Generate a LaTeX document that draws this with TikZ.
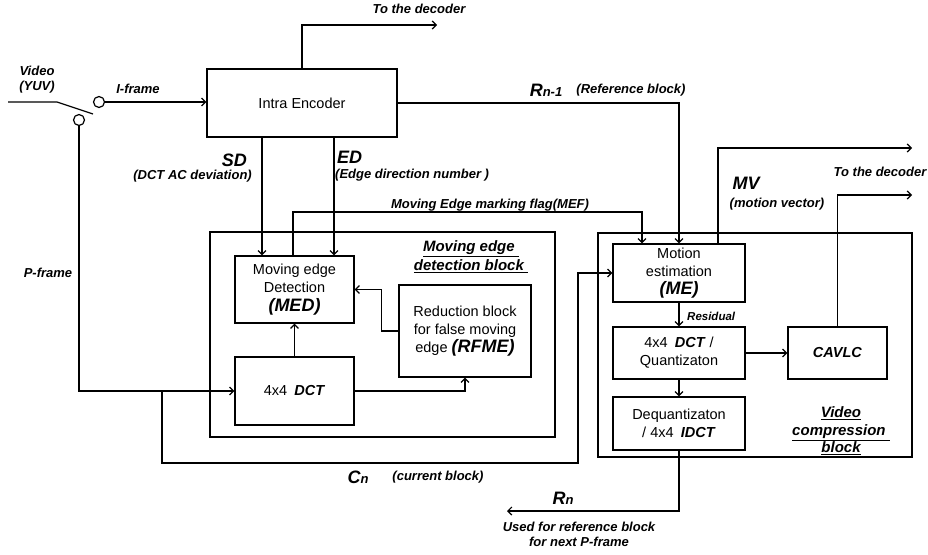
\documentclass[tikz,border=0pt]{standalone}
\usepackage{fontspec}
\setmainfont{Liberation Sans}
\usepackage{tikz}
\usetikzlibrary{arrows.meta}

\newcommand{\lbl}{\fontsize{13}{15}\selectfont\bfseries\itshape}
\newcommand{\biglbl}{\fontsize{18}{20}\selectfont\bfseries\itshape}
\newcommand{\sublbl}[2]{{\biglbl #1}{\fontsize{13}{14}\selectfont\bfseries\itshape #2}}

\tikzset{
  blk/.style={draw, line width=1.2pt, inner sep=0pt, align=center,
    font=\fontsize{14.5}{18}\selectfont},
  grp/.style={draw, line width=1.2pt},
  arr/.style={line width=1.2pt, -{Straight Barb[length=4pt,width=8pt]}},
  wire/.style={line width=1.2pt},
  sw/.style={circle, draw, line width=1.2pt, minimum size=11pt, inner sep=0pt},
  txt/.style={inner sep=0pt, align=center}
}

\begin{document}
\begin{tikzpicture}[x=1pt, y=-1pt]
    \useasboundingbox (0,0) rectangle (928,554);

    % group frames
    \draw[grp] (210,232) rectangle (555,437);
    \draw[grp] (598,233) rectangle (912,457);

    % blocks
    \node[blk, minimum width=190pt, minimum height=68pt] (intra) at (302,103) {Intra Encoder};
    \node[blk, minimum width=119pt, minimum height=67pt] (med) at (294.5,289.5)
      {Moving edge\\Detection\\[1pt]{\biglbl (MED)}};
    \node[blk, minimum width=132pt, minimum height=92pt] (rfme) at (465,331)
      {Reduction block\\for false moving\\edge {\biglbl (RFME)}};
    \node[blk, minimum width=119pt, minimum height=68pt] (dct) at (294.5,391)
      {4x4\enspace\textbf{\textit{DCT}}};
    \node[blk, minimum width=132pt, minimum height=58pt] (me) at (679,273)
      {Motion\\estimation\\[0pt]{\biglbl (ME)}};
    \node[blk, minimum width=132pt, minimum height=52pt] (dctq) at (679,353)
      {4x4\enspace\textbf{\textit{DCT}} /\\Quantizaton};
    \node[blk, minimum width=99pt, minimum height=52pt] (cavlc) at (837.5,353)
      {\textbf{\textit{CAVLC}}};
    \node[blk, minimum width=132pt, minimum height=53pt] (deq) at (679,423.5)
      {Dequantizaton\\/ 4x4\enspace\textbf{\textit{IDCT}}};

    % switch
    \coordinate (vin) at (8,102);
    \coordinate (pivot) at (57,102);
    \coordinate (blade) at (93,114);
    \node[sw] (swa) at (99,102) {};
    \node[sw] (swb) at (79,120) {};
    \draw[wire] (vin) -- (pivot) -- (blade);

    % free ends
    \coordinate (decout) at (437,25);
    \coordinate (mef) at (642,212);
    \coordinate (mvout) at (912,148);
    \coordinate (cavout) at (912,195);
    \coordinate (cn0) at (162,391);
    \coordinate (cnturn) at (578,463);
    \coordinate (rnout) at (507,511);

    % connectors
    \draw[arr] (swa.east) -- (intra.west |- swa.east);
    \draw[arr] (intra.north) |- (decout);
    \draw[arr] (intra.east) -| (me.north);
    \draw[arr] ([xshift=-40pt]intra.south) -- ([xshift=-40pt]intra.south |- med.north);
    \draw[arr] ([xshift=32pt]intra.south) -- ([xshift=32pt]intra.south |- med.north);
    \draw[arr] ([xshift=-1.5pt]med.north) |- (mef) -- (mef |- me.north);
    \draw[arr] (swb.south) |- (dct.west);
    \draw[arr] (dct.north) -- (med.south);
    \draw[arr] (dct.east) -| (rfme.south);
    \draw[arr] (rfme.west) -- ++(-17,0) |- (med.east);
    \draw[arr] (cn0) |- (cnturn) |- (me.west);
    \draw[arr] ([xshift=39pt]me.north) |- (mvout);
    \draw[arr] (me.south) -- (dctq.north);
    \draw[arr] (dctq.east) -- (cavlc.west);
    \draw[arr] (cavlc.north) |- (cavout);
    \draw[arr] (dctq.south) -- (deq.north);
    \draw[arr] (deq.south) |- (rnout);

    % labels
    \node[txt, font=\lbl] (video) at (37,80) {Video\\(YUV)};
    \node[txt, font=\lbl] (iframe) at (138,89) {I-frame};
    \node[txt, font=\lbl] (pframe) at (48,273) {P-frame};
    \node[txt, font=\lbl] (dec1) at (419,9) {To the decoder};
    \node[txt] (rprev) at (546,90) {\sublbl{R}{n-1}};
    \node[txt, font=\lbl] (refblk) at (631,90) {(Reference block)};
    \node[txt, font=\biglbl, anchor=east] (sd) at (247,160) {SD};
    \node[txt, font=\lbl, anchor=east] (sdtxt) at (252,176) {(DCT AC deviation)};
    \node[txt, font=\biglbl, anchor=west] (ed) at (337,157) {ED};
    \node[txt, font=\lbl, anchor=west] (edtxt) at (335,175) {(Edge direction number )};
    \node[txt, font=\lbl] (meftxt) at (490,205) {Moving Edge marking flag(MEF)};
    \node[txt, font=\fontsize{15}{19}\selectfont\bfseries\itshape] (medhead) at (471,257)
      {\underline{Moving edge\ }\\\underline{detection block\ }};
    \node[txt, font=\biglbl] (mv) at (746,183) {MV};
    \node[txt, font=\lbl] (mvtxt) at (777,204) {(motion vector)};
    \node[txt, font=\lbl] (dec2) at (880,172) {To the decoder};
    \node[txt, font=\fontsize{11.5}{13}\selectfont\bfseries\itshape, anchor=west] (resid) at (687,316) {Residual};
    \node[txt, font=\fontsize{15}{17.5}\selectfont\bfseries\itshape] (vchead) at (841,431)
      {\underline{Video}\\\underline{compression\ }\\\underline{block}};
    \node[txt] (cn) at (358,477) {\sublbl{C}{n}};
    \node[txt, font=\lbl] (curblk) at (438,477) {(current block)};
    \node[txt] (rn) at (563,498) {\sublbl{R}{n}};
    \node[txt, font=\lbl] (usedfor) at (579,534) {Used for reference block\\for next P-frame};
\end{tikzpicture}
\end{document}
